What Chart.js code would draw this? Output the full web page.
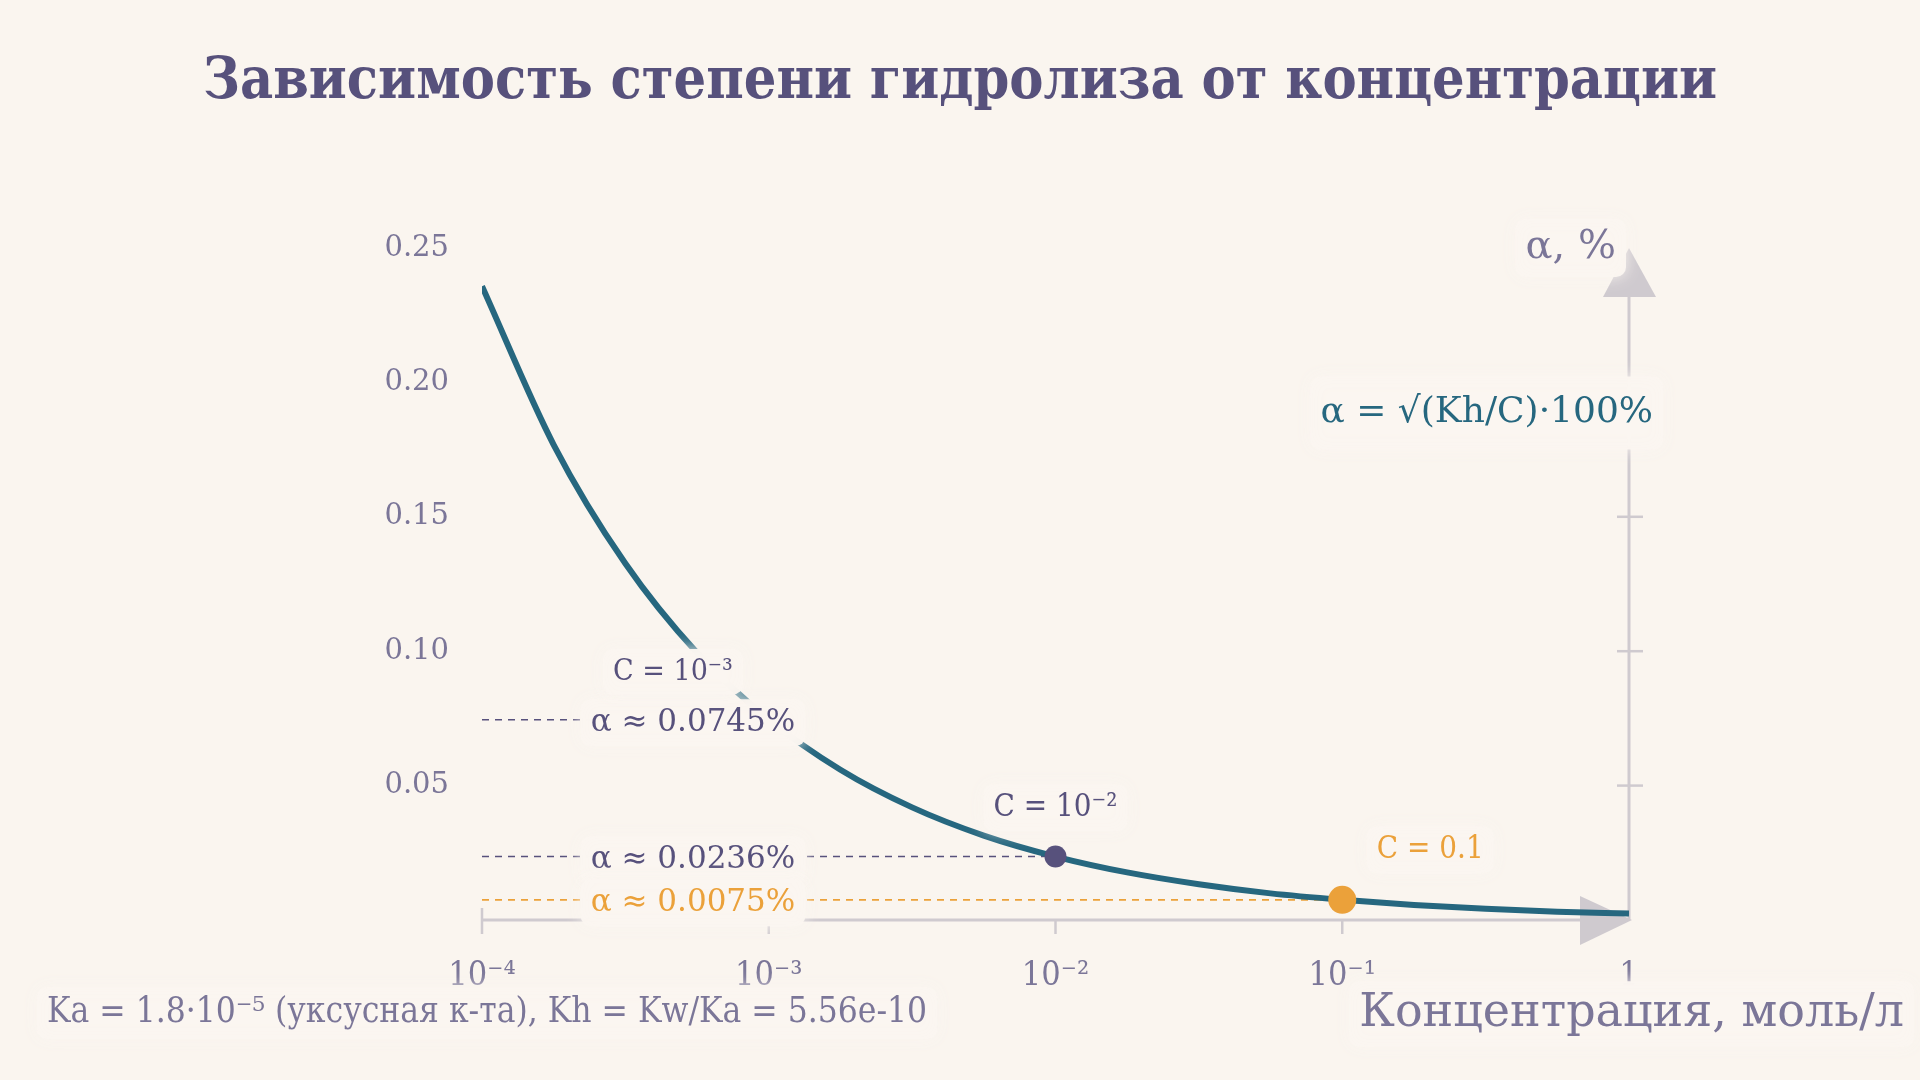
<!DOCTYPE html>
<html>
<head>
<meta charset="utf-8">
<script src="https://cdn.jsdelivr.net/npm/chart.js@4"></script>
<style>
html,body{margin:0;padding:0;background:#FAF5EF;}
canvas{display:block;}
</style>
</head>
<body>
<canvas id="c" width="1920" height="1080"></canvas>
<script>
// ---- data ----
const concentrations = [1e-4, 1.778e-4, 3.162e-4, 5.623e-4, 1e-3, 1.778e-3, 3.162e-3, 5.623e-3, 1e-2, 1.778e-2, 3.162e-2, 5.623e-2, 1e-1, 0.1778, 0.3162, 0.5623, 1];
const alphaPercent   = [0.2358, 0.1768, 0.1326, 0.0994, 0.0746, 0.0559, 0.0419, 0.0314, 0.0236, 0.0177, 0.0133, 0.0099, 0.0075, 0.0056, 0.0042, 0.0031, 0.0024];
const markC      = [1e-3, 1e-2, 1e-1];
const markAlpha  = [0.0745, 0.0236, 0.0075];
const markCText  = ['C = 10⁻³', 'C = 10⁻²', 'C = 0.1'];
const markAText  = ['α ≈ 0.0745%', 'α ≈ 0.0236%', 'α ≈ 0.0075%'];
const xTickValues = [1e-4, 1e-3, 1e-2, 1e-1, 1];
const xTickLabels = ['10⁻⁴', '10⁻³', '10⁻²', '10⁻¹', '1'];
const yTickValues = [0.05, 0.10, 0.15, 0.20, 0.25];
const titleText = 'Зависимость степени гидролиза от концентрации';
const xTitle = 'Концентрация, моль/л';
const yTitle = 'α, %';
const formulaText = 'α = √(Kh/C)·100%';
const footText = 'Ka = 1.8·10⁻⁵ (уксусная к-та), Kh = Kw/Ka = 5.56e-10';

const BG = '#FAF5EF';
const PURPLE = '#57517C';
const MUTED = '#7B7698';
const TEAL = '#26677F';
const ORANGE = '#EBA13A';
const AXIS = '#CFCACF';
const SERIF = '"DejaVu Serif Condensed", "DejaVu Serif", serif';
const SERIF2 = '"DejaVu Serif", serif';

function box(ctx, x, y, w, h) {
  ctx.save();
  ctx.fillStyle = 'rgba(251,246,241,0.97)';
  ctx.shadowColor = 'rgba(250,245,239,1)';
  ctx.shadowBlur = 16;
  ctx.beginPath();
  if (ctx.roundRect) ctx.roundRect(x, y, w, h, 10); else ctx.rect(x, y, w, h);
  ctx.fill();
  ctx.restore();
}
function label(ctx, text, cx, cy, font, color, align, pad) {
  pad = pad || 4;
  ctx.save();
  ctx.font = font;
  const w = ctx.measureText(text).width;
  const h = parseInt(font.match(/(\d+)px/)[1]) * 1.25;
  let left = align === 'right' ? cx - w : align === 'left' ? cx : cx - w / 2;
  box(ctx, left - 10, cy - h / 2 - pad, w + 20, h + 2 * pad);
  ctx.fillStyle = color;
  ctx.textAlign = 'left';
  ctx.textBaseline = 'middle';
  ctx.fillText(text, left, cy);
  ctx.restore();
}

const decor = {
  id: 'decor',
  beforeDatasetsDraw(chart) {
    const ctx = chart.ctx, xs = chart.scales.x, ys = chart.scales.y;
    const L = xs.getPixelForValue(1e-4), R = xs.getPixelForValue(1);
    const B = ys.getPixelForValue(0), T = ys.getPixelForValue(0.25);
    ctx.save();
    ctx.strokeStyle = AXIS; ctx.fillStyle = AXIS; ctx.lineWidth = 3;
    // x axis
    ctx.beginPath(); ctx.moveTo(L, B); ctx.lineTo(R - 40, B); ctx.stroke();
    ctx.lineWidth = 2.5;
    xTickValues.forEach((v, i) => {
      const px = xs.getPixelForValue(v);
      if (i === xTickValues.length - 1) return;
      ctx.beginPath(); ctx.moveTo(px, i === 0 ? B - 12 : B); ctx.lineTo(px, B + 14); ctx.stroke();
    });
    ctx.beginPath(); ctx.moveTo(R + 3, B); ctx.lineTo(R - 49, B - 24); ctx.lineTo(R - 49, B + 25); ctx.closePath(); ctx.fill();
    // y axis
    ctx.lineWidth = 3;
    ctx.beginPath(); ctx.moveTo(R, B); ctx.lineTo(R, T + 45); ctx.stroke();
    ctx.lineWidth = 2.5;
    yTickValues.slice(0, 4).forEach(v => {
      const py = ys.getPixelForValue(v);
      ctx.beginPath(); ctx.moveTo(R - 12, py); ctx.lineTo(R + 14, py); ctx.stroke();
    });
    ctx.beginPath(); ctx.moveTo(R, T); ctx.lineTo(R - 26, T + 49); ctx.lineTo(R + 27, T + 49); ctx.closePath(); ctx.fill();
    // dashed guides
    ctx.lineWidth = 1.6; ctx.setLineDash([7, 6]);
    markC.forEach((c, i) => {
      const px = xs.getPixelForValue(c), py = ys.getPixelForValue(markAlpha[i]);
      ctx.strokeStyle = i === 2 ? ORANGE : PURPLE;
      ctx.beginPath(); ctx.moveTo(L, py); ctx.lineTo(px, py); ctx.stroke();
    });
    ctx.restore();
  },
  afterDatasetsDraw(chart) {
    const ctx = chart.ctx, xs = chart.scales.x, ys = chart.scales.y;
    const L = xs.getPixelForValue(1e-4), R = xs.getPixelForValue(1);
    const T = ys.getPixelForValue(0.25);
    // value labels
    const colors = [PURPLE, PURPLE, ORANGE];
    const aX = L + 211;
    markC.forEach((c, i) => {
      const py = ys.getPixelForValue(markAlpha[i]);
      label(ctx, markAText[i], aX, py + 3, '31px ' + SERIF2, colors[i], 'center');
    });
    label(ctx, markCText[0], L + 191, ys.getPixelForValue(markAlpha[0]) - 48, '30px ' + SERIF, PURPLE, 'center');
    label(ctx, markCText[1], xs.getPixelForValue(markC[1]), ys.getPixelForValue(markAlpha[1]) - 49, '31px ' + SERIF, PURPLE, 'center');
    label(ctx, markCText[2], xs.getPixelForValue(markC[2]) + 88, ys.getPixelForValue(markAlpha[2]) - 50, '31px ' + SERIF, ORANGE, 'center');
    // formula and axis titles
    label(ctx, formulaText, R + 24, ys.getPixelForValue(0.25) + 165, '36px ' + SERIF2, TEAL, 'right', 14);
    label(ctx, yTitle, R - 13, T, '40px ' + SERIF2, MUTED, 'right');
    label(ctx, xTitle, 1904, 1014, '46px ' + SERIF2, MUTED, 'right');
    label(ctx, footText, 47, 1013, '35px ' + SERIF, MUTED, 'left');
    // title
    ctx.save();
    ctx.font = 'bold 57px ' + SERIF;
    ctx.fillStyle = PURPLE; ctx.textAlign = 'center'; ctx.textBaseline = 'middle';
    ctx.fillText(titleText, 960, 83);
    ctx.restore();
  }
};

new Chart(document.getElementById('c'), {
  data: {
    datasets: [
      {
        type: 'line',
        data: concentrations.map((c, i) => ({ x: c, y: alphaPercent[i] })),
        borderColor: TEAL, borderWidth: 6, pointRadius: 0,
        cubicInterpolationMode: 'monotone', fill: false, order: 2
      },
      {
        type: 'scatter',
        data: markC.slice(1).map((c, i) => ({ x: c, y: markAlpha[i + 1] })),
        pointRadius: [11, 14], pointBackgroundColor: [PURPLE, ORANGE],
        pointBorderWidth: 0, order: 1
      }
    ]
  },
  options: {
    responsive: false, animation: false, devicePixelRatio: 1,
    layout: { padding: { left: 0, right: 291, top: 248, bottom: 0 } },
    plugins: { legend: { display: false }, tooltip: { enabled: false } },
    scales: {
      x: {
        type: 'logarithmic', min: 1e-4, max: 1,
        afterBuildTicks: s => { s.ticks = xTickValues.map(v => ({ value: v })); },
        afterFit: s => { s.height = 160; },
        grid: { display: false, drawTicks: false }, border: { display: false },
        ticks: {
          padding: 36, autoSkip: false, maxRotation: 0, color: MUTED,
          font: { family: SERIF, size: 34 },
          callback: (v) => { const k = xTickValues.indexOf(v); return k >= 0 ? xTickLabels[k] : ''; }
        }
      },
      y: {
        type: 'linear', min: 0, max: 0.25,
        afterBuildTicks: s => { s.ticks = [0].concat(yTickValues).map(v => ({ value: v })); },
        afterFit: s => { s.width = 482; },
        grid: { display: false, drawTicks: false }, border: { display: false },
        ticks: {
          padding: 33, color: MUTED, font: { family: SERIF2, size: 29 },
          callback: v => v === 0 ? '' : v.toFixed(2)
        }
      }
    }
  },
  plugins: [decor]
});
</script>
</body>
</html>
